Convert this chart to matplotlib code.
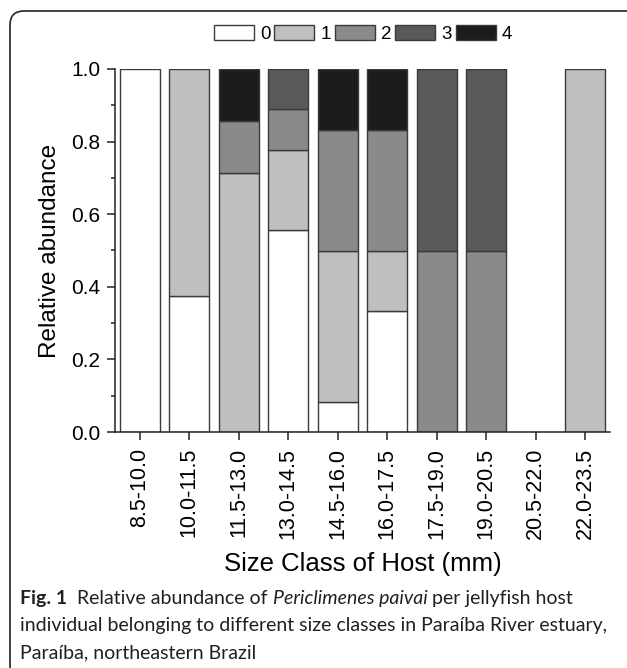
import matplotlib.pyplot as plt
import numpy as np
from matplotlib.patches import FancyBboxPatch

# Relative abundance of shrimps per host, by host size class
size_classes = ['8.5-10.0', '10.0-11.5', '11.5-13.0', '13.0-14.5', '14.5-16.0',
                '16.0-17.5', '17.5-19.0', '19.0-20.5', '20.5-22.0', '22.0-23.5']
levels = ['0', '1', '2', '3', '4']
prop_0 = [1.000, 0.375, 0.000, 0.556, 0.083, 0.333, 0.000, 0.000, 0.000, 0.000]
prop_1 = [0.000, 0.625, 0.714, 0.222, 0.417, 0.167, 0.000, 0.000, 0.000, 1.000]
prop_2 = [0.000, 0.000, 0.143, 0.111, 0.333, 0.333, 0.500, 0.500, 0.000, 0.000]
prop_3 = [0.000, 0.000, 0.000, 0.111, 0.000, 0.000, 0.500, 0.500, 0.000, 0.000]
prop_4 = [0.000, 0.000, 0.143, 0.000, 0.167, 0.167, 0.000, 0.000, 0.000, 0.000]
level_colors = ['#ffffff', '#bfbfbf', '#8a8a8a', '#595959', '#1c1c1c']

plt.rcParams['font.family'] = ['Liberation Sans', 'DejaVu Sans']

fig = plt.figure(figsize=(6.27, 6.68), dpi=100)

# background layer in pixel coords: rounded frame + caption
bg = fig.add_axes([0, 0, 1, 1], zorder=-1)
bg.set_xlim(0, 627)
bg.set_ylim(668, 0)
bg.axis('off')
bg.add_patch(FancyBboxPatch((10, 11), 700, 800, boxstyle='round,pad=0,rounding_size=14',
                            facecolor='white', edgecolor='#333333', linewidth=1.3))

ax = fig.add_axes([115 / 627, 1 - 432 / 668, 495 / 627, 363 / 668])
x = np.arange(len(size_classes))
bottom = np.zeros(len(size_classes))
handles = []
for lab, vals, col in zip(levels, [prop_0, prop_1, prop_2, prop_3, prop_4], level_colors):
    vals = np.array(vals)
    keep = vals > 0
    b = ax.bar(x[keep], vals[keep], width=0.8, bottom=bottom[keep], color=col,
               edgecolor='#3a3a3a', linewidth=1.0, label=lab)
    handles.append(b)
    bottom += vals

ax.set_xlim(-0.5, len(size_classes) - 0.5)
ax.set_ylim(0, 1.0)
ax.set_yticks(np.arange(0, 1.01, 0.2))
ax.set_yticks(np.arange(0.1, 1.0, 0.2), minor=True)
ax.set_yticklabels(['%.1f' % v for v in np.arange(0, 1.01, 0.2)])
ax.set_xticks(x)
ax.set_xticklabels(size_classes, rotation=90)
ax.tick_params(axis='both', which='major', direction='out', length=5.5, width=1.1,
               labelsize=15, color='#222222')
ax.tick_params(axis='x', pad=6, labelsize=15.5)
ax.tick_params(axis='y', pad=5)
ax.tick_params(axis='y', which='minor', direction='out', length=3, width=1.1, color='#222222')
for s in ['top', 'right']:
    ax.spines[s].set_visible(False)
for s in ['left', 'bottom']:
    ax.spines[s].set_linewidth(1.1)
    ax.spines[s].set_color('#222222')
ax.set_ylabel('Relative abundance', fontsize=17.5, labelpad=7)
ax.set_xlabel('Size Class of Host (mm)', fontsize=18.5, labelpad=9)

fig.legend(handles=handles, labels=levels, loc='center', bbox_to_anchor=(363 / 627, 1 - 34 / 668),
           ncol=5, frameon=False, fontsize=13.5, handlelength=2.13, handleheight=0.8,
           handletextpad=0.32, columnspacing=0.22, borderaxespad=0, borderpad=0)

# caption with mixed styles
cap_font = ['Lato', 'DejaVu Sans']
cap_size = 14
renderer = fig.canvas.get_renderer()


def draw_runs(runs, x0, y0):
    xx = x0
    for txt, weight, style in runs:
        t = bg.text(xx, y0, txt, fontsize=cap_size, family=cap_font, fontweight=weight,
                    fontstyle=style, va='baseline', ha='left', color='#231f20')
        ext = t.get_window_extent(renderer=renderer)
        xx += ext.width
    return xx


draw_runs([('Fig. 1', 'bold', 'normal'), ('  Relative abundance of ', 'normal', 'normal'),
           ('Periclimenes paivai', 'normal', 'italic'),
           (' per jellyfish host', 'normal', 'normal')], 20, 604)
draw_runs([('individual belonging to different size classes in Paraíba River estuary,',
            'normal', 'normal')], 20, 631)
draw_runs([('Paraíba, northeastern Brazil', 'normal', 'normal')], 20, 658)

fig.savefig('out.png', dpi=100)
